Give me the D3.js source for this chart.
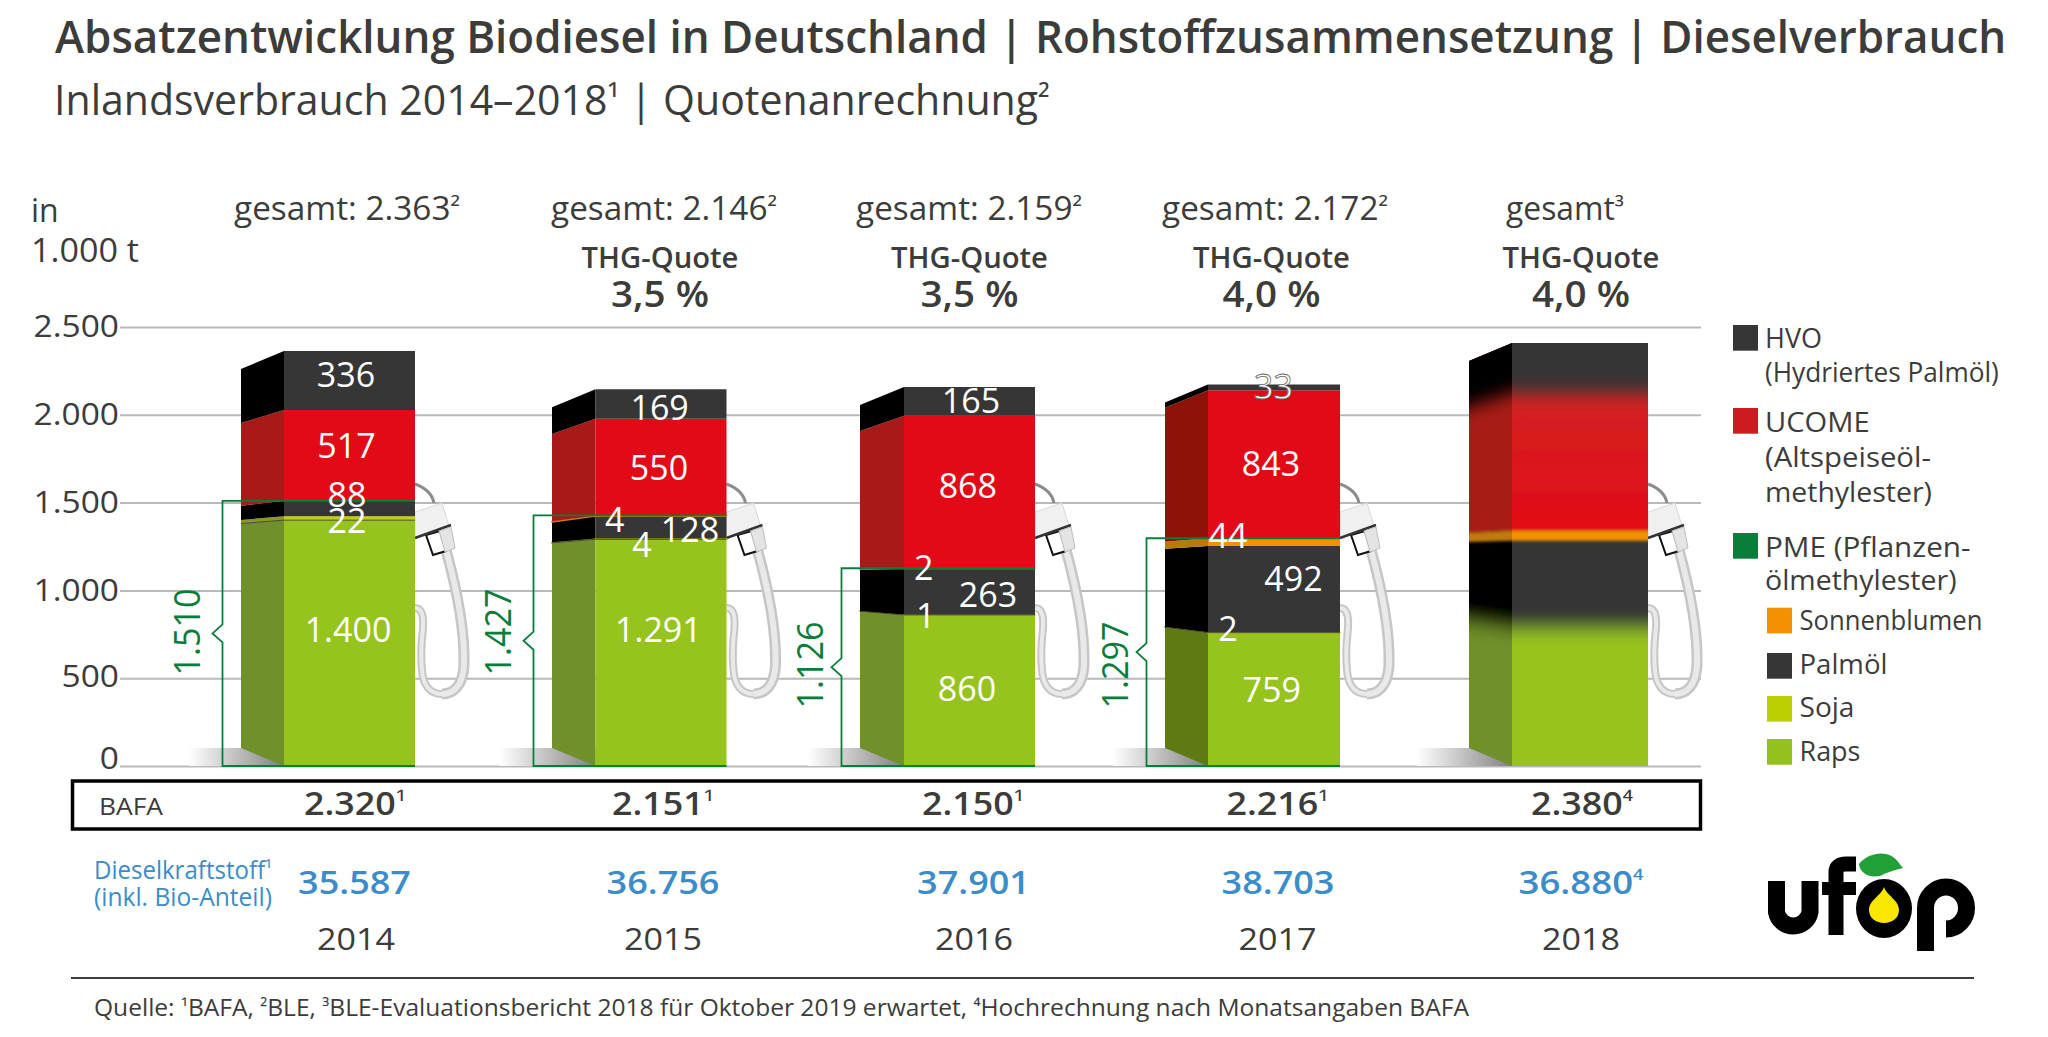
<!DOCTYPE html>
<html>
<head>
    <meta charset="utf-8">
    <title>Absatzentwicklung Biodiesel in Deutschland</title>
    <script src="https://d3js.org/d3.v7.min.js"></script>
    <style>
        body { margin: 0; background: #fff; }
        text { font-family: "Open Sans", sans-serif; fill: #3c3c3b; }
    </style>
</head>
<body>
<div id="chart"></div>
<script>
// values in 1.000 t (2018 has no printed values)
const years = ["2014", "2015", "2016", "2017", "2018"];
const categories = ["raps", "soja", "palmoel", "sonnenblumen", "ucome", "hvo"];
const raps = [1400, 1291, 860, 759, 780];
const soja = [22, 4, 1, 2, 5];
const palmoel = [88, 128, 263, 492, 498];
const sonnenblumen = [0, 4, 2, 44, 56];
const ucome = [517, 550, 868, 843, 785];
const hvo = [336, 169, 165, 33, 285];
const pmeTotals = [1510, 1427, 1126, 1297];
const yTicks = [0, 500, 1000, 1500, 2000, 2500];

const gesamtLabels = ["gesamt: 2.363²", "gesamt: 2.146²", "gesamt: 2.159²", "gesamt: 2.172²", "gesamt³"];
const quoteLabels = [null, "3,5 %", "3,5 %", "4,0 %", "4,0 %"];
const bafaLabels = ["2.320¹", "2.151¹", "2.150¹", "2.216¹", "2.380⁴"];
const dieselLabels = ["35.587", "36.756", "37.901", "38.703", "36.880⁴"];
const legendNames = [
    ["HVO", "(Hydriertes Palmöl)"],
    ["UCOME", "(Altspeiseöl-", "methylester)"],
    ["PME (Pflanzen-", "ölmethylester)"],
    ["Sonnenblumen"], ["Palmöl"], ["Soja"], ["Raps"]
];

// layout, colours
const width = 2048, height = 1037;
const textColor = "#3c3c3b", pmeGreen = "#0a7d3b", blue = "#3b8cc9";
const frontColor = { raps: "#97c31f", soja: "#c3d200", palmoel: "#363636", sonnenblumen: "#f39200", ucome: "#e30a17", hvo: "#363636" };
const sideColor = { raps: "#6f902a", soja: "#8a9a1a", palmoel: "#000", sonnenblumen: "#c07a10", ucome: "#a81a17", hvo: "#000" };
const sideColor2017 = { raps: "#5e7a12", soja: "#7a8a10", palmoel: "#000", sonnenblumen: "#b87a08", ucome: "#8e1208", hvo: "#000" };

const barLeft = [241, 552, 860, 1165, 1469];
const frontLeft = [284, 595.5, 904, 1208, 1512];
const frontRight = [415, 726.5, 1035, 1340, 1648];
const gesamtCenter = [347, 664, 969, 1275, 1565];
const quoteCenter = [null, 660, 969.5, 1271.5, 1581];
const bafaCenter = [355, 663, 973, 1277.5, 1582];
const dieselCenter = [354.5, 663, 973.5, 1278, 1581];
const yearCenter = [356, 663, 974, 1277.5, 1581];
const pmeLabelX = [199.5, 510.6, 823, 1128];
const pmeLabelY = [632, 632, 665, 665];

// label spots per year, same order as categories
const valueSpots = [
    [[348, 641.7], [347, 533], [347, 506.7], null, [346.5, 458], [346, 386.7]],
    [[658.4, 642.3], [642, 556.7], [690, 541.7], [614.7, 531.7], [659, 480], [659.6, 420]],
    [[967, 700.7], [925.7, 628], [988, 606.7], [923.7, 580], [967.8, 498], [971, 413]],
    [[1271.7, 701.7], [1228, 640.7], [1293.5, 590.7], [1228, 548.3], [1271, 476], [1273.5, 399]],
    [null, null, null, null, null, null]
];

const legendRows = [
    { x: 1733, sy: 325, tx: 1765, base: [347.7, 381.7], w: [57, 234], color: "#363636" },
    { x: 1733, sy: 408, tx: 1765, base: [431.7, 467, 501.7], w: [104.6, 166, 167], color: "#cf1a1f" },
    { x: 1733, sy: 533, tx: 1765, base: [556.7, 590], w: [205.6, 191.6], color: pmeGreen },
    { x: 1767, sy: 607.7, tx: 1799.5, base: [630], w: [183], color: "#f39200" },
    { x: 1767, sy: 653, tx: 1799.5, base: [674], w: [88], color: "#363636" },
    { x: 1767, sy: 696, tx: 1799.5, base: [717], w: [55], color: "#bccf00" },
    { x: 1767, sy: 739, tx: 1799.5, base: [760.7], w: [61], color: "#95c11f" }
];

const svg = d3.select("#chart").append("svg")
    .attr("width", width)
    .attr("height", height)
    .style("display", "block");

const defs = svg.append("defs");

const shadowGrad = defs.append("linearGradient").attr("id", "foot_shadow");
shadowGrad.append("stop").attr("offset", "0%").attr("stop-color", "#fff");
shadowGrad.append("stop").attr("offset", "100%").attr("stop-color", "#808080");

const red2018 = defs.append("linearGradient").attr("id", "red_2018").attr("x1", 0).attr("x2", 0).attr("y1", 0).attr("y2", 1);
red2018.append("stop").attr("offset", "0%").attr("stop-color", "#cf2523");
red2018.append("stop").attr("offset", "45%").attr("stop-color", "#d41f20");
red2018.append("stop").attr("offset", "100%").attr("stop-color", "#e30a17");

function blurFilter(id, std) {
    defs.append("filter").attr("id", id)
        .attr("filterUnits", "userSpaceOnUse")
        .attr("x", 0).attr("y", 0).attr("width", width).attr("height", height)
        .append("feGaussianBlur").attr("stdDeviation", "0 " + std);
}
blurFilter("blur_wide", 9);
blurFilter("blur_thin", 1.6);

// text helper, w squeezes or stretches to the measured width of the original
// superscript digits come out smaller and lighter than the font draws them
function label(parent, str, x, y, o) {
    const t = parent.append("text")
        .attr("font-size", o.size)
        .attr("font-weight", o.weight || 400)
        .attr("text-anchor", o.anchor || "start")
        .style("fill", o.fill || textColor);
    str.split(/([¹²³⁴])/).filter(s => s !== "").forEach(part => {
        const sup = /[¹²³⁴]/.test(part);
        t.append("tspan")
            .attr("font-size", sup ? o.size * 0.82 : null)
            .attr("font-weight", sup ? 400 : null)
            .attr("dy", sup ? -o.size * 0.1 : (t.selectAll("tspan").size() > 1 ? o.size * 0.1 : null))
            .text(part);
    });
    const sx = o.w ? o.w / t.node().getComputedTextLength() : 1;
    t.attr("transform", "translate(" + x + "," + y + ")" + (o.rotate ? "rotate(-90)" : "") + "scale(" + sx + ",1)");
    return t;
}

// scales
const y = d3.scaleLinear().domain([0, 2500]).range([766, 327]);
const xLeft = d3.scaleOrdinal().domain(years).range(barLeft);
const xFront = d3.scaleOrdinal().domain(years).range(frontLeft);
const xRight = d3.scaleOrdinal().domain(years).range(frontRight);

const table = years.map((yr, i) => ({
    year: yr, raps: raps[i], soja: soja[i], palmoel: palmoel[i],
    sonnenblumen: sonnenblumen[i], ucome: ucome[i], hvo: hvo[i]
}));
const stacked = d3.stack().keys(categories)(table);

// titles
label(svg, "Absatzentwicklung Biodiesel in Deutschland | Rohstoffzusammensetzung | Dieselverbrauch", 55, 53, { size: 46, weight: 600, w: 1952 });
label(svg, "Inlandsverbrauch 2014–2018¹ | Quotenanrechnung²", 54, 115, { size: 42, w: 996 });
label(svg, "in", 31, 221.7, { size: 32 });
label(svg, "1.000 t", 31, 261.7, { size: 32, w: 108 });

// axis with grid lines
const axis = svg.append("g")
    .attr("transform", "translate(120,0)")
    .call(d3.axisLeft(y).tickValues(yTicks).tickSize(-1581).tickPadding(1)
        .tickFormat(d => d3.format(",")(d).replace(",", ".")));
axis.select(".domain").remove();
axis.selectAll("line").attr("stroke", "#b9b9b9").attr("stroke-width", 2);
axis.selectAll("text")
    .attr("font-size", 31)
    .attr("font-family", null)
    .attr("transform", "scale(1.08,1)")
    .attr("x", -1)
    .attr("dy", d => d === 0 ? "0.07em" : d === 500 ? "0.26em" : "0.32em");

// foot shadows
svg.append("g").selectAll("rect")
    .data(years)
    .join("rect")
    .attr("x", d => xLeft(d) - 52)
    .attr("y", 748)
    .attr("width", d => xFront(d) - xLeft(d) + 52)
    .attr("height", 18)
    .attr("fill", "url(#foot_shadow)");

// pump nozzle and hose, hangs on the right side of every bar
function drawPump(x) {
    const g = svg.append("g").attr("transform", "translate(" + x + ",0)");
    const hoseDown = "M31,550 C42,590 50,630 49,665 C48,686 38,694 27,694";
    const hoseUp = "M27,694 C15,694 8,685 7,670 C5,650 7,640 8,628 C9,612 5,608 0,608";
    g.append("path").attr("d", "M0,484 C8,487 17,492 19,503").attr("fill", "none").attr("stroke", "#8c8c8c").attr("stroke-width", 3);
    [[hoseUp, 8, 4], [hoseDown, 11, 6]].forEach(([d, outer, inner]) => {
        g.append("path").attr("d", d).attr("fill", "none").attr("stroke", "#c6c6c6").attr("stroke-width", outer);
        g.append("path").attr("d", d).attr("fill", "none").attr("stroke", "#e9e9e9").attr("stroke-width", inner);
    });
    g.append("path").attr("d", "M11,535 L25,531 L31,551 L18,555 Z").attr("fill", "#fff").attr("stroke", "#111").attr("stroke-width", 2);
    g.append("path").attr("d", "M0,512 L27,503 L34,526 L0,538 Z").attr("fill", "#f0f0f0").attr("stroke", "#d8d8d8");
    g.append("path").attr("d", "M0,538 L36,525").attr("stroke", "#333").attr("stroke-width", 2.5);
    g.append("path").attr("d", "M24,531 L36,527 L40,548 L30,552 Z").attr("fill", "#e4e4e4").attr("stroke", "#bdbdbd");
}
frontRight.forEach(drawPump);

// bars, a slanted side face and a flat front face
const bars = svg.append("g");
years.forEach((yr, i) => {
    const total = d3.max(stacked, s => s[i][1]);
    const ySide = d3.scaleLinear().domain([0, total]).range([748, y(total) + 18]);
    const l = xLeft(yr), f = xFront(yr), r = xRight(yr);
    const sides = yr === "2017" ? sideColor2017 : sideColor;
    const faces = stacked.map(s => ({ key: s.key, v0: s[i][0], v1: s[i][1] })).filter(d => d.v1 > d.v0);

    const sidePath = (d, over0, over1) => "M" + l + "," + (ySide(d.v0) + over0) + "L" + f + "," + (y(d.v0) + over0)
        + "L" + f + "," + (y(d.v1) - over1) + "L" + l + "," + (ySide(d.v1) - over1) + "Z";
    const frontPath = (d, over0, over1) => "M" + f + "," + (y(d.v0) + over0) + "L" + r + "," + (y(d.v0) + over0)
        + "L" + r + "," + (y(d.v1) - over1) + "L" + f + "," + (y(d.v1) - over1) + "Z";

    if (yr !== "2018") {
        bars.append("g").selectAll("path").data(faces).join("path")
            .attr("d", d => sidePath(d, 0, 0))
            .attr("fill", d => sides[d.key])
            .attr("stroke", d => d.v1 - d.v0 < 12 ? sides[d.key] : "none")
            .attr("stroke-width", 1.4);
        bars.append("g").selectAll("path").data(faces).join("path")
            .attr("d", d => frontPath(d, 0, 0))
            .attr("fill", d => frontColor[d.key])
            .attr("stroke", d => d.v1 - d.v0 < 12 ? frontColor[d.key] : "none")
            .attr("stroke-width", 1.4);
        // thin dark seam on top of the rapeseed part
        const top = raps[i];
        bars.append("path")
            .attr("d", "M" + l + "," + ySide(top) + "L" + f + "," + y(top) + "L" + r + "," + y(top))
            .attr("fill", "none").attr("stroke", "#4a4a3a").attr("stroke-width", 1);
    } else {
        // 2018 is not published yet: segments painted bottom up, each blurred, clipped to the faces
        [["clip_side", sidePath], ["clip_front", frontPath]].forEach(([id, path]) => {
            defs.append("clipPath").attr("id", id).append("path").attr("d", path({ v0: 0, v1: total }, 0, 0));
            const isFront = id === "clip_front";
            const colors = isFront ? frontColor : sides;
            const g = bars.append("g").attr("clip-path", "url(#" + id + ")");
            const byKey = k => faces.find(d => d.key === k);
            const low = g.append("g").attr("filter", "url(#blur_wide)");
            low.append("path").attr("d", path({ v0: 0, v1: total }, 60, 60)).attr("fill", colors.palmoel);
            low.append("path").attr("d", path(byKey("raps"), 60, 0)).attr("fill", colors.raps);
            const mid = g.append("g").attr("filter", "url(#blur_thin)");
            mid.append("path").attr("d", path(byKey("ucome"), 0, 60)).attr("fill", isFront ? "url(#red_2018)" : colors.ucome);
            mid.append("path").attr("d", path(byKey("sonnenblumen"), 0, 0)).attr("fill", colors.sonnenblumen);
            g.append("path").attr("filter", "url(#blur_wide)")
                .attr("d", path(byKey("hvo"), 0, 60)).attr("fill", colors.hvo);
        });
    }
});

// green brackets for the PME sum
pmeTotals.forEach((v, i) => {
    const yr = years[i], left = xLeft(yr) - 18.5, mid = (y(v) + y(0)) / 2;
    svg.append("path")
        .attr("d", "M" + xRight(yr) + "," + y(v) + "H" + left + "V" + (mid - 9) + "L" + (left - 10) + "," + mid
            + "L" + left + "," + (mid + 9) + "V" + y(0) + "H" + xRight(yr))
        .attr("fill", "none")
        .attr("stroke", pmeGreen)
        .attr("stroke-width", 1.8);
    label(svg, d3.format(",")(v).replace(",", "."), pmeLabelX[i], pmeLabelY[i],
        { size: 37, weight: 500, anchor: "middle", rotate: true, w: 87, fill: pmeGreen });
});

// values inside the bars
stacked.forEach((s, k) => {
    s.forEach((pt, i) => {
        const spot = valueSpots[i][k];
        if (!spot) return;
        const v = pt[1] - pt[0];
        const t = label(svg, d3.format(",")(v).replace(",", "."), spot[0], spot[1], { size: 34, anchor: "middle", fill: "#fff" });
        if (v === 33) t.attr("stroke", "#666").attr("stroke-width", 0.8);
    });
});

// texts above and below the bars
years.forEach((yr, i) => {
    label(svg, gesamtLabels[i], gesamtCenter[i], 220, { size: 32, anchor: "middle", w: i === 4 ? 118 : 226 });
    if (quoteLabels[i]) {
        label(svg, "THG-Quote", quoteCenter[i], 268, { size: 28, weight: 600, anchor: "middle", w: 157 });
        label(svg, quoteLabels[i], quoteCenter[i], 306.7, { size: 36, weight: 600, anchor: "middle", w: 98 });
    }
    label(svg, bafaLabels[i], bafaCenter[i], 815, { size: 32, weight: 600, anchor: "middle", w: 102 });
    label(svg, dieselLabels[i], dieselCenter[i], 894, { size: 32, weight: 600, anchor: "middle", fill: blue, w: i === 4 ? 125 : 113 });
    label(svg, yr, yearCenter[i], 950, { size: 31, anchor: "middle", w: 78 });
});

// BAFA box
svg.append("rect")
    .attr("x", 72.5).attr("y", 781)
    .attr("width", 1628).attr("height", 48)
    .attr("fill", "none").attr("stroke", "#000").attr("stroke-width", 3.5);
label(svg, "BAFA", 99, 815, { size: 23, w: 64 });

label(svg, "Dieselkraftstoff¹", 94, 879, { size: 25, fill: blue, w: 178 });
label(svg, "(inkl. Bio-Anteil)", 94, 905.7, { size: 25, fill: blue, w: 178 });

// footer
svg.append("line")
    .attr("x1", 71).attr("x2", 1974).attr("y1", 978).attr("y2", 978)
    .attr("stroke", textColor).attr("stroke-width", 2);
label(svg, "Quelle: ¹BAFA, ²BLE, ³BLE-Evaluationsbericht 2018 für Oktober 2019 erwartet, ⁴Hochrechnung nach Monatsangaben BAFA", 94, 1016, { size: 24, w: 1376 });

// legend
legendRows.forEach((row, i) => {
    svg.append("rect")
        .attr("x", row.x).attr("y", row.sy)
        .attr("width", 25).attr("height", 25.7)
        .attr("fill", row.color);
    legendNames[i].forEach((line, j) => {
        label(svg, line, row.tx, row.base[j], { size: 27, w: row.w[j] });
    });
});

// ufop logo
const logo = svg.append("g");
logo.append("path").attr("d", "M1776.5,881 V912 A17,17 0 0 0 1810,912 V881")
    .attr("fill", "none").attr("stroke", "#000").attr("stroke-width", 17);
logo.append("path").attr("d", "M1836,935 V872 Q1836,864 1846,864 H1856")
    .attr("fill", "none").attr("stroke", "#000").attr("stroke-width", 15);
logo.append("rect").attr("x", 1822).attr("y", 882).attr("width", 34).attr("height", 13).attr("fill", "#000");
logo.append("ellipse").attr("cx", 1884).attr("cy", 908.5).attr("rx", 28).attr("ry", 29.5).attr("fill", "#000");
logo.append("path").attr("d", "M1884,887 C1887,896 1899,900 1899,910 C1899,918 1892,923 1884,923 C1876,923 1869,918 1869,910 C1869,900 1881,896 1884,887 Z")
    .attr("fill", "#f9e700");
logo.append("path").attr("d", "M1925.5,951 V908 A20.5,21 0 1 1 1946,929")
    .attr("fill", "none").attr("stroke", "#000").attr("stroke-width", 17);
logo.append("path").attr("d", "M1859,864 C1866,855 1878,852 1886,854 C1896,856 1899,864 1903,868 C1895,870 1888,872 1880,876 C1870,878 1860,874 1859,864 Z")
    .attr("fill", "#22a038");
</script>
</body>
</html>
